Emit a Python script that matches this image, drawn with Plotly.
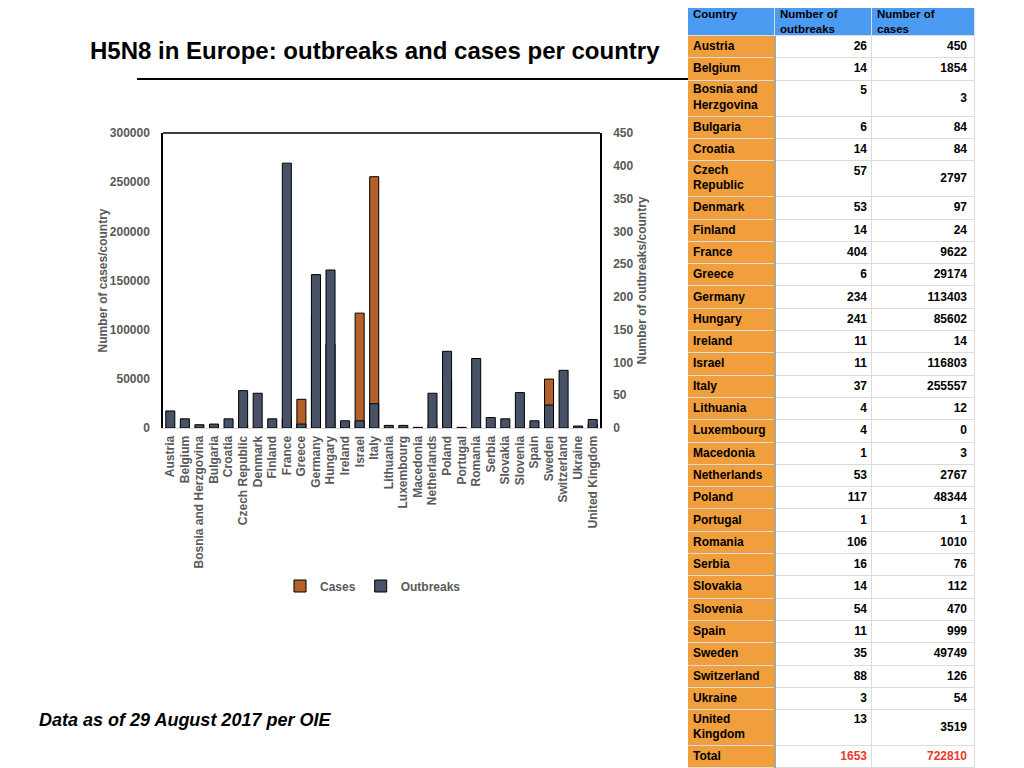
import plotly.graph_objects as go

paises = ["Austria", "Belgium", "Bosnia and Herzgovina", "Bulgaria", "Croatia",
          "Czech Republic", "Denmark", "Finland", "France", "Greece", "Germany",
          "Hungary", "Ireland", "Israel", "Italy", "Lithuania", "Luxembourg",
          "Macedonia", "Netherlands", "Poland", "Portugal", "Romania", "Serbia",
          "Slovakia", "Slovenia", "Spain", "Sweden", "Switzerland", "Ukraine",
          "United Kingdom"]
surtos = [26, 14, 5, 6, 14, 57, 53, 14, 404, 6, 234, 241, 11, 11, 37, 4, 4, 1,
          53, 117, 1, 106, 16, 14, 54, 11, 35, 88, 3, 13]
casos = [450, 1854, 3, 84, 84, 2797, 97, 24, 9622, 29174, 113403, 85602, 14,
         116803, 255557, 12, 0, 3, 2767, 48344, 1, 1010, 76, 112, 470, 999,
         49749, 126, 54, 3519]

# nomes do quadro (com quebra de linha nos nomes longos)
nomes_tabela = ["Austria", "Belgium", "Bosnia and<br>Herzgovina", "Bulgaria",
                "Croatia", "Czech<br>Republic", "Denmark", "Finland", "France",
                "Greece", "Germany", "Hungary", "Ireland", "Israel", "Italy",
                "Lithuania", "Luxembourg", "Macedonia", "Netherlands", "Poland",
                "Portugal", "Romania", "Serbia", "Slovakia", "Slovenia", "Spain",
                "Sweden", "Switzerland", "Ukraine", "United<br>Kingdom"]
cabecalho = ["Country", "Number of<br>outbreaks", "Number of<br>cases"]
total_surtos = 1653
total_casos = 722810

cinza = "#595959"
fonte = "Liberation Sans, Arial, sans-serif"
OFF = 8  # margem do body da pagina

fig = go.Figure()

# ---------------- grafico de barras ----------------
fig.add_trace(go.Bar(
    x=paises, y=casos, name="Cases",
    marker=dict(color="#b5602b", line=dict(color="black", width=1)),
    xaxis="x", yaxis="y"))
fig.add_trace(go.Bar(
    x=paises, y=surtos, name="Outbreaks",
    marker=dict(color="#475266", line=dict(color="black", width=1)),
    xaxis="x", yaxis="y2"))

# ---------------- quadro (heatmap + textos) ----------------
larguras = [87, 97, 103]
bordas_x = [0]
for w in larguras:
    bordas_x.append(bordas_x[-1] + w)

linhas_txt = [cabecalho] + \
    [[nomes_tabela[i], str(surtos[i]), str(casos[i])] for i in range(len(paises))] + \
    [["Total", str(total_surtos), str(total_casos)]]

alturas = []
for k, lin in enumerate(linhas_txt):
    if k == 0:
        alturas.append(36)
    elif "<br>" in lin[0]:
        alturas.append(36)
    else:
        alturas.append(22.3)
bordas_y = [0]
for h in alturas:
    bordas_y.append(bordas_y[-1] + h)

z = []
for k in range(len(linhas_txt)):
    z.append([2, 2, 2] if k == 0 else [1, 0, 0])

fig.add_trace(go.Heatmap(
    x=bordas_x, y=bordas_y, z=z, zmin=0, zmax=2,
    colorscale=[[0, "white"], [0.5, "#f19e3c"], [1, "#4c9bf3"]],
    showscale=False, xgap=1, ygap=1, hoverinfo="skip",
    xaxis="x3", yaxis="y3"))

tx, ty, tt, tp, tc, ts = [], [], [], [], [], []
for k, lin in enumerate(linhas_txt):
    topo = bordas_y[k]
    for c in range(3):
        txt = lin[c]
        n = txt.count("<br>") + 1
        if k == 0:
            # cabecalho: a pagina corta o topo, entao o texto desce um pouco
            yy = topo + 15.5 + (n - 1) * 7
        elif c < 2 and alturas[k] > 30:
            yy = topo + 10.3 + (n - 1) * 7
        else:
            yy = (topo + bordas_y[k + 1]) / 2
        if k == 0 or c == 0:
            xx = bordas_x[c] + 5
            pos = "middle right"
        else:
            xx = bordas_x[c + 1] - (5 if c == 1 else 8)
            pos = "middle left"
        tx.append(xx)
        ty.append(yy)
        tt.append(txt)
        tp.append(pos)
        ts.append(11.5 if k == 0 else 12)
        tc.append("#e8392b" if (k == len(linhas_txt) - 1 and c > 0) else "black")

fig.add_trace(go.Scatter(
    x=tx, y=ty, text=tt, mode="text", textposition=tp, cliponaxis=False,
    textfont=dict(family=fonte, size=ts, color=tc, weight="bold"),
    hoverinfo="skip", showlegend=False, xaxis="x3", yaxis="y3"))

fig.update_layout(
    width=1024, height=768,
    margin=dict(l=0, r=0, t=0, b=0, autoexpand=False),
    paper_bgcolor="white", plot_bgcolor="white",
    barmode="overlay", bargap=0.38,
    font=dict(family=fonte, size=12, color=cinza),
    showlegend=True,
    legend=dict(orientation="h", x=(373 - OFF) / 1024, xanchor="center",
                y=(768 - 586 + OFF) / 768, yanchor="middle",
                font=dict(family=fonte, size=12, color=cinza, weight="bold")),
    xaxis=dict(domain=[(163 - OFF) / 1024, (600 - OFF) / 1024], tickangle=-90,
               showline=True, linecolor="#d9d9d9", linewidth=1,
               tickfont=dict(size=12, color=cinza, weight="bold"),
               showgrid=False, ticks="outside", ticklen=2, tickcolor="rgba(0,0,0,0)"),
    yaxis=dict(domain=[(768 - 428 + OFF) / 768, (768 - 133 + OFF) / 768],
               range=[0, 300000], dtick=50000, showgrid=False, zeroline=False,
               showline=True, linecolor="black", linewidth=1.5,
               tickformat="d", ticks="outside", ticklen=9, tickcolor="rgba(0,0,0,0)",
               tickfont=dict(size=12, color=cinza, weight="bold"),
               title=dict(text="Number of cases/country", standoff=0,
                          font=dict(size=12, color=cinza, weight="bold"))),
    yaxis2=dict(overlaying="y", side="right",
                range=[0, 450], dtick=50, showgrid=False, zeroline=False,
                showline=True, linecolor="black", linewidth=1.5,
                ticks="outside", ticklen=9, tickcolor="rgba(0,0,0,0)",
                tickfont=dict(size=12, color=cinza, weight="bold"),
                title=dict(text="Number of outbreaks/country", standoff=5,
                           font=dict(size=12, color=cinza, weight="bold"))),
    xaxis3=dict(domain=[(688 - OFF) / 1024, (975 - OFF) / 1024],
                range=[0, bordas_x[-1]], visible=False, fixedrange=True),
    yaxis3=dict(domain=[0, 1], range=[768 + OFF, OFF], visible=False, fixedrange=True),
)

# fundo cinza das linhas do quadro
fig.add_shape(type="rect", xref="x3", yref="y3", layer="below",
              x0=bordas_x[0], x1=bordas_x[-1], y0=bordas_y[0], y1=bordas_y[-1],
              fillcolor="#dcdcdc", line=dict(width=0))
# separador entre a coluna dos paises e os numeros
fig.add_shape(type="line", xref="x3", yref="y3",
              x0=bordas_x[1], x1=bordas_x[1], y0=bordas_y[1], y1=bordas_y[-1],
              line=dict(color="#a08a70", width=1.5))

# borda superior da area do grafico
fig.add_shape(type="line", xref="x domain", yref="y domain",
              x0=0, x1=1, y0=1, y1=1, line=dict(color="black", width=1.5))

# linha abaixo do titulo
fig.add_shape(type="line", xref="paper", yref="paper",
              x0=(137 - OFF) / 1024, x1=(688 - OFF) / 1024,
              y0=(768 - 79 + OFF) / 768, y1=(768 - 79 + OFF) / 768,
              line=dict(color="black", width=2))

fig.add_annotation(text="<b>H5N8 in Europe: outbreaks and cases per country</b>",
                   xref="paper", yref="paper", x=(88 - OFF) / 1024, y=(768 - 50 + OFF) / 768,
                   xanchor="left", yanchor="middle", showarrow=False,
                   font=dict(family=fonte, size=24, color="black"))
fig.add_annotation(text="<b><i>Data as of 29 August 2017 per OIE</i></b>",
                   xref="paper", yref="paper", x=(37 - OFF) / 1024, y=(768 - 720 + OFF) / 768,
                   xanchor="left", yanchor="middle", showarrow=False,
                   font=dict(family=fonte, size=18, color="black"))

fig.write_html("out.html")
